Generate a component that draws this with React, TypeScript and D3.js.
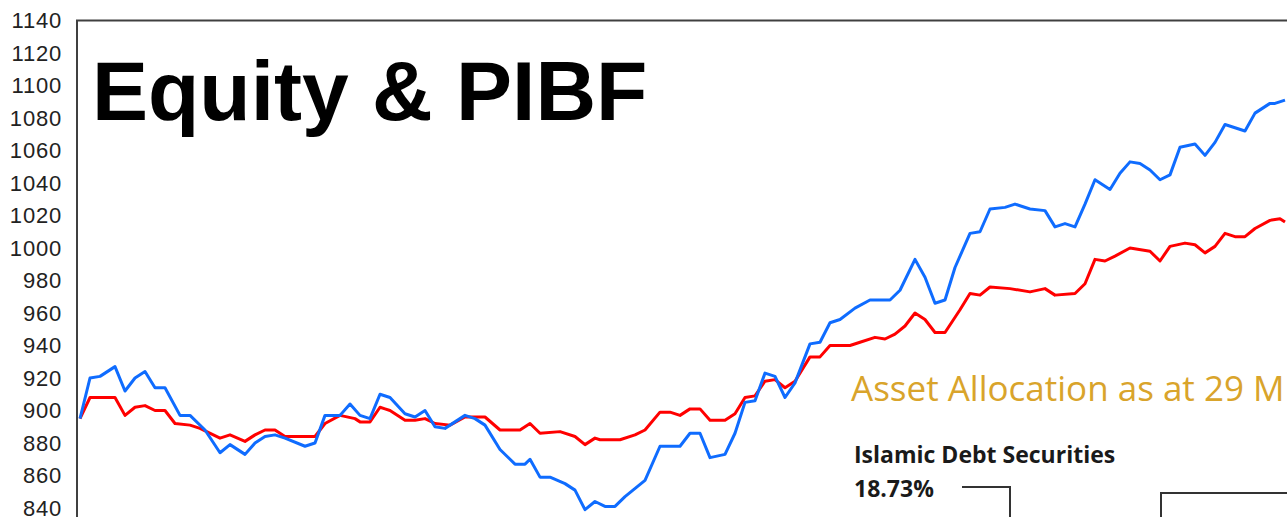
import * as d3 from 'd3';

// weekly index -> value
const blueWeeks = [0, 2, 4, 7, 9, 11, 13, 15, 17, 20, 22, 25, 28, 30, 33, 35, 37, 39, 41, 45, 47, 49, 52, 54, 56, 58, 60, 62, 65, 67, 69, 71, 73, 76, 77, 79, 81, 84, 86, 87, 89, 90, 92, 94, 97, 99, 101, 103, 105, 107, 109, 113, 116, 120, 122, 124, 126, 129, 131, 133, 135, 137, 139, 141, 143, 146, 148, 150, 152, 155, 158, 162, 164, 167, 169, 171, 173, 175, 178, 180, 182, 185, 187, 188, 190, 193, 195, 197, 199, 201, 203, 206, 208, 210, 212, 214, 216, 218, 220, 223, 225, 227, 229, 231, 233, 235, 238, 239, 241];
const blueValues = [895, 920, 921, 927, 912, 920, 924, 914, 914, 897, 897, 888, 874, 879, 873, 880, 884, 885, 883, 878, 880, 897, 897, 904, 897, 895, 910, 908, 898, 896, 900, 890, 889, 895, 897, 895, 891, 876, 870, 867, 867, 870, 859, 859, 855, 851, 839, 844, 841, 841, 847, 857, 878, 878, 886, 886, 871, 873, 886, 905, 906, 923, 921, 908, 917, 941, 942, 954, 956, 963, 968, 968, 974, 993, 982, 966, 968, 988, 1009, 1010, 1024, 1025, 1027, 1026, 1024, 1023, 1013, 1015, 1013, 1027, 1042, 1036, 1046, 1053, 1052, 1048, 1042, 1045, 1062, 1064, 1057, 1065, 1076, 1074, 1072, 1083, 1089, 1089, 1091];

const redWeeks = [0, 2, 4, 7, 9, 11, 13, 15, 17, 19, 22, 24, 28, 30, 33, 35, 37, 39, 41, 47, 49, 52, 55, 56, 58, 60, 61, 62, 65, 67, 69, 71, 74, 77, 81, 84, 88, 90, 92, 96, 99, 101, 103, 104, 108, 111, 113, 116, 118, 120, 122, 124, 126, 129, 131, 133, 135, 137, 139, 141, 143, 146, 148, 150, 154, 156, 159, 161, 163, 165, 167, 169, 171, 173, 176, 178, 180, 182, 186, 190, 193, 195, 199, 201, 203, 205, 207, 210, 214, 216, 218, 221, 223, 225, 227, 229, 231, 233, 235, 238, 240, 241];
const redValues = [895, 908, 908, 908, 897, 902, 903, 900, 900, 892, 891, 889, 883, 885, 881, 885, 888, 888, 884, 884, 892, 897, 895, 893, 893, 902, 901, 900, 894, 894, 895, 892, 891, 896, 896, 888, 888, 892, 886, 887, 884, 879, 883, 882, 882, 885, 888, 899, 899, 897, 901, 901, 894, 894, 898, 908, 909, 918, 919, 914, 918, 933, 933, 940, 940, 942, 945, 944, 947, 952, 960, 956, 948, 948, 962, 972, 971, 976, 975, 973, 975, 971, 972, 978, 993, 992, 995, 1000, 998, 992, 1001, 1003, 1002, 997, 1001, 1009, 1007, 1007, 1012, 1017, 1018, 1016];

const yTicks = [840, 860, 880, 900, 920, 940, 960, 980, 1000, 1020, 1040, 1060, 1080, 1100, 1120, 1140];

const title = 'Equity & PIBF';
const overlayHeading = 'Asset Allocation as at 29 M';
const overlayLabel = 'Islamic Debt Securities';
const overlayValue = '18.73%';

const W = 1287;
const H = 517;

export default function App() {
  const x = d3.scaleLinear().domain([0, 240]).range([80, 1280]);
  const y = d3.scaleLinear().domain([840, 1140]).range([508, 20.5]);

  const line = d3
    .line<[number, number]>()
    .x((d) => x(d[0]))
    .y((d) => y(d[1]));

  const blue = blueWeeks.map((w, i) => [w, blueValues[i]] as [number, number]);
  const red = redWeeks.map((w, i) => [w, redValues[i]] as [number, number]);

  const frameLeft = 77;
  const frameTop = y(1140);

  return (
    <svg
      width={W}
      height={H}
      style={{ position: 'absolute', left: 0, top: 0, background: '#fff' }}
      fontFamily="'Liberation Sans', Arial, sans-serif"
    >
      {/* y tick labels */}
      {yTicks.map((t) => (
        <text key={t} x={62} y={y(t)} dy="0.35em" textAnchor="end" fontSize={22} letterSpacing={0.8} fill="#222">
          {t}
        </text>
      ))}

      {/* plot frame, runs off the right and bottom */}
      <path
        d={`M${frameLeft},${H + 2}V${frameTop}H${W + 2}`}
        fill="none"
        stroke="#404040"
        strokeWidth={2}
      />

      <path d={line(red) ?? ''} fill="none" stroke="#ff0000" strokeWidth={3} strokeLinejoin="round" />
      <path d={line(blue) ?? ''} fill="none" stroke="#0f6cff" strokeWidth={3} strokeLinejoin="round" />

      <text x={92} y={120} fontSize={84} fontWeight="bold" fill="#000">
        {title}
      </text>

      {/* pasted allocation panel */}
      <g fontFamily="'Open Sans', sans-serif">
        <text x={851} y={401} fontSize={35} fill="#d9a42b">
          {overlayHeading}
        </text>
        <text x={854} y={463} fontSize={23} fontWeight="bold" fill="#1a1a1a">
          {overlayLabel}
        </text>
        <text x={854} y={497} fontSize={23} fontWeight="bold" fill="#1a1a1a">
          {overlayValue}
        </text>
      </g>
      <path d={`M962,487H1010V${H + 2}`} fill="none" stroke="#333" strokeWidth={2} />
      <path d={`M1161,${H + 2}V493H${W + 2}`} fill="none" stroke="#333" strokeWidth={2} />
    </svg>
  );
}
